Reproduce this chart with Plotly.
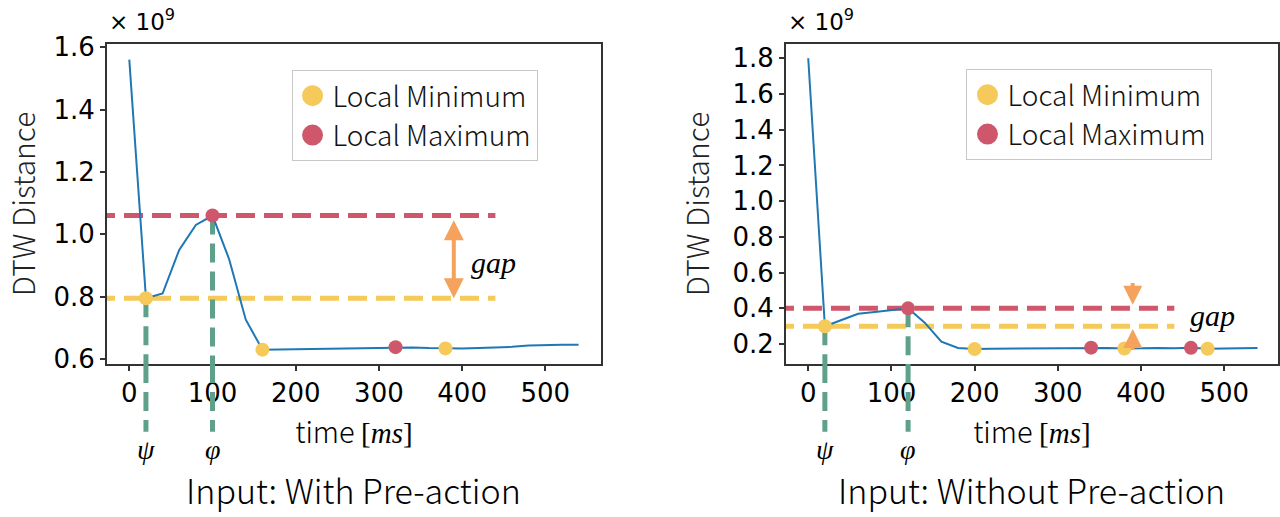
import plotly.graph_objects as go

# ---------------- data ----------------
time_ms = [0, 20, 40, 60, 80, 100, 120, 140, 160, 180, 200, 220, 240, 260,
           280, 300, 320, 340, 360, 380, 400, 420, 440, 460, 480, 500, 520, 540]

dtw_with = [1.56, 0.795, 0.81, 0.95, 1.03, 1.06, 0.92, 0.726, 0.63, 0.631,
            0.632, 0.633, 0.634, 0.635, 0.636, 0.637, 0.638, 0.637, 0.635, 0.634,
            0.634, 0.635, 0.636, 0.639, 0.643, 0.645, 0.646, 0.646]

dtw_without = [1.80, 0.30, 0.335, 0.37, 0.38, 0.39, 0.40, 0.32, 0.213, 0.178,
               0.172, 0.174, 0.175, 0.176, 0.177, 0.178, 0.179, 0.18, 0.178, 0.175,
               0.177, 0.178, 0.176, 0.179, 0.174, 0.176, 0.177, 0.178]

min_t_with = [20, 160, 380]
max_t_with = [100, 320]
min_t_without = [20, 200, 380, 480]
max_t_without = [120, 340, 460]

psi_with, phi_with = 20, 100
psi_without, phi_without = 20, 120
gap_x = 390
line_end_x = 440

y_ticks_with = [0.6, 0.8, 1.0, 1.2, 1.4, 1.6]
y_ticks_without = [0.2, 0.4, 0.6, 0.8, 1.0, 1.2, 1.4, 1.6, 1.8]
x_ticks = [0, 100, 200, 300, 400, 500]

titles = ["Input: With Pre-action", "Input: Without Pre-action"]
legend_names = ["Local Minimum", "Local Maximum"]

# ---------------- style ----------------
BLUE = "#1f77b4"
YELLOW = "#f5c95a"
RED = "#cf576b"
GREEN = "#5fa08a"
ORANGE = "#f4a25c"
SPINE = "#333333"
CJK = "Noto Sans CJK JP"
SERIF = "Liberation Serif"
TICKF = dict(family="DejaVu Sans", size=26, color="black")
DASH = "19px,9px"

W, H = 1280, 517
fig = go.Figure()


def val_at(series, t):
    return series[time_ms.index(t)]


panels = [
    dict(series=dtw_with, mins=min_t_with, maxs=max_t_with, psi=psi_with, phi=phi_with,
         xa="x", ya="y", legend="legend"),
    dict(series=dtw_without, mins=min_t_without, maxs=max_t_without, psi=psi_without,
         phi=phi_without, xa="x2", ya="y2", legend="legend2"),
]

for p in panels:
    s = p["series"]
    fig.add_trace(go.Scatter(x=time_ms, y=s, mode="lines", line=dict(color=BLUE, width=2),
                             xaxis=p["xa"], yaxis=p["ya"], showlegend=False, hoverinfo="skip"))
    fig.add_trace(go.Scatter(x=p["mins"], y=[val_at(s, t) for t in p["mins"]], mode="markers",
                             marker=dict(color=YELLOW, size=14), showlegend=False,
                             xaxis=p["xa"], yaxis=p["ya"]))
    fig.add_trace(go.Scatter(x=p["maxs"], y=[val_at(s, t) for t in p["maxs"]], mode="markers",
                             marker=dict(color=RED, size=14), showlegend=False,
                             xaxis=p["xa"], yaxis=p["ya"]))
    # legend entries (larger symbols, as in the reference legend)
    for name, col in zip(legend_names, (YELLOW, RED)):
        fig.add_trace(go.Scatter(x=[None], y=[None], mode="markers", name=name,
                                 marker=dict(color=col, size=16, line=dict(color=col, width=5)),
                                 xaxis=p["xa"], yaxis=p["ya"], legend=p["legend"]))

    y_min = val_at(s, p["psi"])
    y_max = val_at(s, p["phi"])
    # horizontal dashed reference lines
    fig.add_shape(type="line", xref=p["xa"], yref=p["ya"], x0=-40, x1=line_end_x,
                  y0=y_max, y1=y_max, line=dict(color=RED, width=5, dash=DASH), layer="below")
    fig.add_shape(type="line", xref=p["xa"], yref=p["ya"], x0=-40, x1=line_end_x,
                  y0=y_min, y1=y_min, line=dict(color=YELLOW, width=5, dash=DASH), layer="below")
    # vertical green dashed lines (inside axes, then below axes)
    for t, yv in ((p["psi"], y_min), (p["phi"], y_max)):
        fig.add_shape(type="line", xref=p["xa"], yref=p["ya"], x0=t, x1=t, y0=yv, y1=-1,
                      line=dict(color=GREEN, width=5, dash=DASH), layer="below")
        fig.add_shape(type="line", xref=p["xa"], yref="paper", x0=t, x1=t, y0=0, y1=-0.212,
                      line=dict(color=GREEN, width=5, dash=DASH))
    # psi / phi labels
    for t, sym in ((p["psi"], "ψ"), (p["phi"], "φ")):
        fig.add_annotation(x=t, xref=p["xa"], y=-0.266, yref="paper", yanchor="middle",
                           text="<i>" + sym + "</i>", showarrow=False,
                           font=dict(family=SERIF, size=28, color="black"))

# gap arrows, left panel: double headed
fig.add_annotation(x=gap_x, y=val_at(dtw_with, psi_with), ax=gap_x, ay=val_at(dtw_with, phi_with) - 0.01,
                   xref="x", yref="y", axref="x", ayref="y", text="", showarrow=True,
                   arrowhead=2, startarrowhead=2, arrowside="end+start", arrowsize=1.0,
                   startarrowsize=1.0, arrowwidth=4, arrowcolor=ORANGE, standoff=0, startstandoff=0)
fig.add_annotation(x=gap_x + 18, y=0.91, xref="x", yref="y", yanchor="middle", text="<i>gap</i>",
                   showarrow=False, xanchor="left", font=dict(family=SERIF, size=30, color="black"))

# gap arrows, right panel: two arrows pointing inward
fig.add_annotation(x=gap_x, y=val_at(dtw_without, phi_without) + 0.02, ax=gap_x, ay=0.55,
                   xref="x2", yref="y2", axref="x2", ayref="y2", text="", showarrow=True,
                   arrowhead=2, arrowsize=0.95, arrowwidth=4, arrowcolor=ORANGE, standoff=0)
fig.add_annotation(x=gap_x, y=val_at(dtw_without, psi_without) - 0.015, ax=gap_x, ay=0.16,
                   xref="x2", yref="y2", axref="x2", ayref="y2", text="", showarrow=True,
                   arrowhead=2, arrowsize=0.95, arrowwidth=4, arrowcolor=ORANGE, standoff=0)
fig.add_annotation(x=gap_x + 66, y=0.36, xref="x2", yref="y2", yanchor="middle", text="<i>gap</i>",
                   showarrow=False, xanchor="left", font=dict(family=SERIF, size=30, color="black"))

# x 10^9 offset labels
for xd in ("x domain", "x2 domain"):
    fig.add_annotation(x=0, xref=xd, y=1, yref="paper", yanchor="bottom", xanchor="left",
                       yshift=7, text="× 10<sup>9</sup>", showarrow=False,
                       font=dict(family="DejaVu Sans", size=23, color="black"))

# panel titles
for xd, ttl in (("x domain", titles[0]), ("x2 domain", titles[1])):
    fig.add_annotation(x=0.5, xref=xd, y=-(517 - 364 - 1) / 320, yref="paper", yanchor="bottom",
                       text=ttl, showarrow=False,
                       font=dict(family=CJK, size=34, color="black", weight=300))

x_title = 'time <span style="font-family:Liberation Serif">[<i>ms</i>]</span>'
axis_common = dict(showline=True, linecolor=SPINE, linewidth=1.5, mirror=True, ticks="outside",
                   ticklen=5, tickwidth=1.5, tickcolor=SPINE, showgrid=False, zeroline=False,
                   tickfont=TICKF)
xtitle = dict(text=x_title, font=dict(family=CJK, size=29, color="black", weight=300), standoff=16)
ytitle = dict(text="DTW Distance", font=dict(family=CJK, size=30, color="#222", weight=300), standoff=14)
leg_common = dict(xanchor="left", yanchor="top", bordercolor="#c8c8c8", borderwidth=1,
                  bgcolor="white", font=dict(family=CJK, size=28, color="#111", weight=300))

fig.update_layout(
    width=W, height=H,
    margin=dict(l=0, r=0, t=44, b=153),
    paper_bgcolor="white", plot_bgcolor="white",
    xaxis=dict(domain=[107 / W, 602 / W], range=[-27, 567], tickvals=x_ticks,
               title=xtitle, anchor="y", **axis_common),
    yaxis=dict(domain=[0, 1], range=[0.584, 1.61], tickvals=y_ticks_with, tickformat=".1f",
               title=ytitle, anchor="x", **axis_common),
    xaxis2=dict(domain=[787 / W, 1.0], range=[-27, 564.6], tickvals=x_ticks,
                title=xtitle, anchor="y2", **axis_common),
    yaxis2=dict(domain=[0, 1], range=[0.0885, 1.88], tickvals=y_ticks_without, tickformat=".1f",
                title=ytitle, anchor="x2", **axis_common),
    legend=dict(x=292 / W, y=(364 - 70) / 320, **leg_common),
    legend2=dict(x=968 / W, y=(364 - 69) / 320, **leg_common),
)

fig.write_html("out.html")
